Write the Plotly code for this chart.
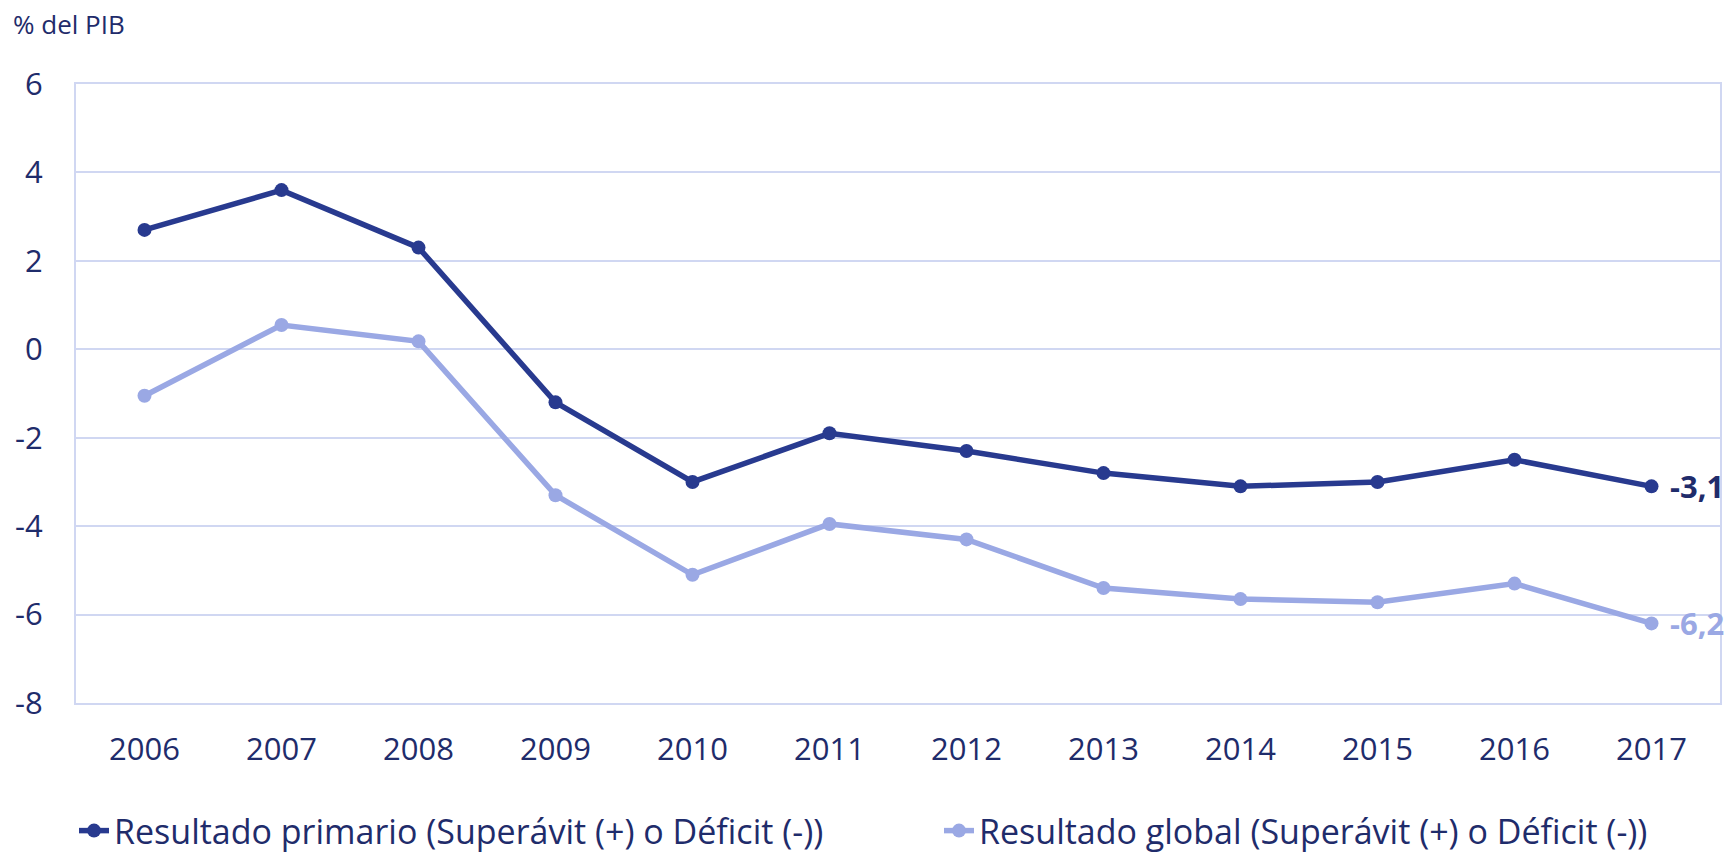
import plotly.graph_objects as go

years = ["2006", "2007", "2008", "2009", "2010", "2011", "2012", "2013", "2014", "2015", "2016", "2017"]
primario = [2.7, 3.6, 2.3, -1.2, -3.0, -1.9, -2.3, -2.8, -3.1, -3.0, -2.5, -3.1]
global_ = [-1.05, 0.55, 0.18, -3.3, -5.1, -3.95, -4.3, -5.4, -5.65, -5.72, -5.3, -6.2]
names = ["Resultado primario (Superávit (+) o Déficit (-))",
         "Resultado global (Superávit (+) o Déficit (-))"]
y_ticks = [6, 4, 2, 0, -2, -4, -6, -8]

DARK = "#283A8F"
LIGHT = "#9AA8E4"
TEXT = "#1F2C6B"
GRID = "#D0D7F2"
FONT = "Open Sans"

W, H = 1734, 854
ML, MR, MT, MB = 76, W - 1720, 84, H - 703
PW, PH = W - ML - MR, H - MT - MB

fig = go.Figure()
fig.add_trace(go.Scatter(x=years, y=primario, name=names[0], mode="lines+markers",
                         line=dict(color=DARK, width=5.5), marker=dict(size=14, color=DARK),
                         legend="legend"))
fig.add_trace(go.Scatter(x=years, y=global_, name=names[1], mode="lines+markers",
                         line=dict(color=LIGHT, width=5.5), marker=dict(size=14, color=LIGHT),
                         legend="legend2"))

def fmt(v):
    return f"{v:.1f}".replace(".", ",")

last = len(years) - 1
fig.add_annotation(x=last, y=primario[-1], text=f"<b>{fmt(primario[-1])}</b>",
                   showarrow=False, xanchor="left", xshift=16,
                   font=dict(family=FONT, size=31, color=TEXT))
fig.add_annotation(x=last, y=global_[-1], text=f"<b>{fmt(global_[-1])}</b>",
                   showarrow=False, xanchor="left", xshift=16,
                   font=dict(family=FONT, size=31, color=LIGHT))
fig.add_annotation(xref="paper", yref="paper", x=-(ML - 11) / PW, y=1 + (MT - 24) / PH,
                   text="% del PIB", showarrow=False, xanchor="left", yanchor="middle",
                   font=dict(family=FONT, size=26, color=TEXT))

leg_common = dict(orientation="h", xanchor="left", yanchor="middle",
                  y=-(831 - 703) / PH,
                  font=dict(family=FONT, size=34, color=TEXT),
                  itemwidth=30, bgcolor="rgba(0,0,0,0)")

fig.update_layout(
    width=W, height=H,
    margin=dict(l=ML, r=MR, t=MT, b=MB, autoexpand=False),
    paper_bgcolor="white", plot_bgcolor="white",
    font=dict(family=FONT, color=TEXT),
    showlegend=True,
    legend=dict(x=-(ML - 74) / PW, **leg_common),
    legend2=dict(x=(939 - ML) / PW, **leg_common),
)
fig.update_xaxes(type="category", range=[-0.5, len(years) - 0.5], automargin=False,
                 showgrid=False, showline=True, linecolor=GRID, linewidth=2, mirror=True,
                 ticks="", tickfont=dict(family=FONT, size=31, color=TEXT),
                 ticklabelstandoff=18)
fig.update_yaxes(range=[-8, 6], tickvals=y_ticks, ticktext=[str(v) for v in y_ticks],
                 automargin=False,
                 showgrid=True, gridcolor=GRID, gridwidth=2, zeroline=False,
                 showline=True, linecolor=GRID, linewidth=2, mirror=True,
                 ticks="", tickfont=dict(family=FONT, size=31, color=TEXT),
                 ticklabelstandoff=25)

fig.write_html("out.html", config={"displayModeBar": False},
               post_script="document.body.style.margin='0';document.body.style.overflow='hidden';")
